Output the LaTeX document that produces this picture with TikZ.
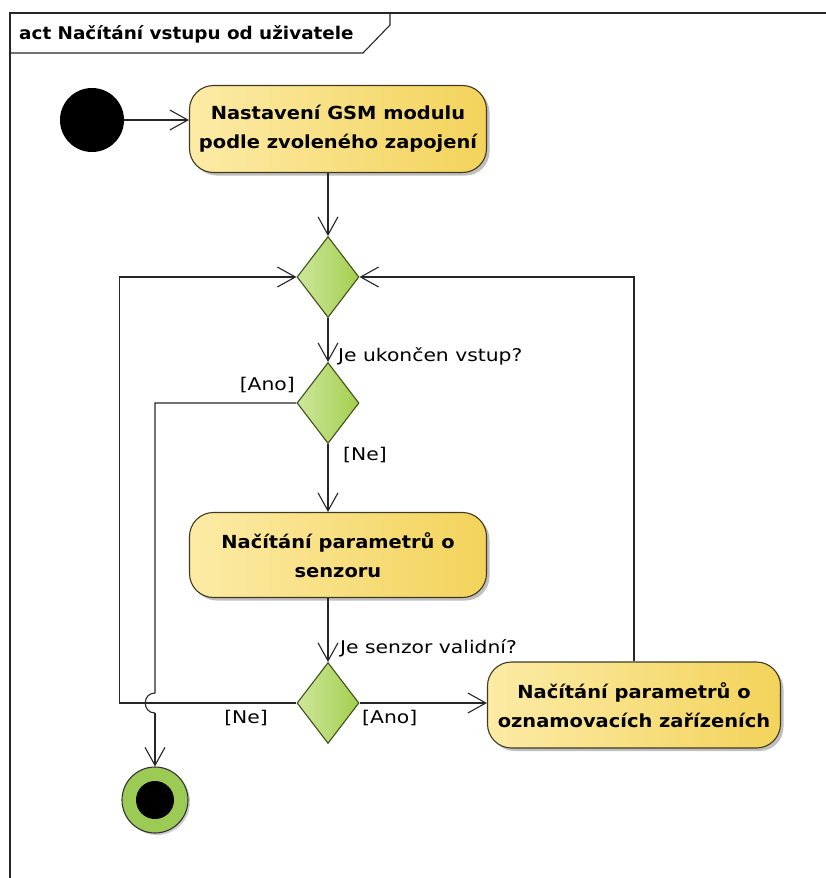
\documentclass[tikz,border=0pt]{standalone}
\usepackage{fontspec}
\setmainfont{DejaVu Sans}
\newfontfamily\boxfont[FakeStretch=1.08]{DejaVu Sans}
\newfontfamily\titlefont[FakeStretch=1.05]{DejaVu Sans}
\newfontfamily\guardfont[FakeStretch=1.16]{DejaVu Sans}
\usetikzlibrary{shapes.geometric,arrows.meta,shadows}

\definecolor{actL}{HTML}{FCEBA6}
\definecolor{actR}{HTML}{F3D35B}
\definecolor{actEdge}{HTML}{3F3A20}
\definecolor{decL}{HTML}{CDE79C}
\definecolor{decR}{HTML}{A3CE4E}
\definecolor{decEdge}{HTML}{3E5218}
\definecolor{finRing}{HTML}{9CCB55}

\tikzset{
  flow/.style={line width=1.1pt, draw=black!85, -{Straight Barb[length=18pt,width=20pt,line width=1.1pt]}},
  plain/.style={line width=1.1pt, draw=black!85},
  actbox/.style={rectangle, rounded corners=24pt, draw=actEdge, line width=1.1pt,
    left color=actL, right color=actR, align=center, font=\boxfont\fontsize{18}{29}\selectfont\bfseries,
    inner sep=0pt, drop shadow={shadow xshift=3pt, shadow yshift=-3pt, opacity=0.25, fill=black}},
  decbox/.style={diamond, draw=decEdge, line width=1.1pt, left color=decL, right color=decR,
    minimum width=62pt, minimum height=81pt, inner sep=0pt},
  guard/.style={font=\guardfont\fontsize{17.5}{20}\selectfont, inner sep=0pt},
}

\begin{document}
\begin{tikzpicture}[x=1pt, y=-1pt]
  \useasboundingbox (0,0) rectangle (826,878);
  \begin{scope}
    \clip (0,0) rectangle (826,878);
    % diagram frame and title tab
    \draw[line width=1.1pt, black!85] (10,890) -- (10,13) -- (840,13);
    \draw[line width=1.1pt, black!85] (10,53) -- (363,53) -- (390,25) -- (390,13);
  \end{scope}
  \node[anchor=west, font=\titlefont\fontsize{17.5}{20}\selectfont\bfseries, inner sep=0pt] (title) at (19,34)
    {act Načítání vstupu od uživatele};

  % nodes
  \node[circle, fill=black, minimum size=64pt, inner sep=0pt] (init) at (92,120) {};
  \node[actbox, minimum width=297pt, minimum height=87pt] (a1) at (338,129)
    {Nastavení GSM modulu\\podle zvoleného zapojení};
  \node[decbox] (m1) at (328,277) {};
  \node[decbox] (d1) at (328,403) {};
  \node[actbox, minimum width=297pt, minimum height=85pt] (a2) at (338,555)
    {Načítání parametrů o\\senzoru};
  \node[decbox] (d2) at (328,703) {};
  \node[actbox, minimum width=293pt, minimum height=86pt] (a3) at (634,705)
    {Načítání parametrů o\\oznamovacích zařízeních};
  \node[circle, draw=black!80, line width=1.1pt, fill=finRing, minimum size=66pt, inner sep=0pt,
    drop shadow={shadow xshift=2pt, shadow yshift=-2pt, opacity=0.2, fill=black}] (fin) at (155,800) {};
  \node[circle, fill=black, minimum size=38pt, inner sep=0pt] (finc) at (fin) {};

  % free corners of the return paths
  \coordinate (hopT) at (155,693);
  \coordinate (hopB) at (155,713);

  % connectors
  \draw[flow] (init.east) -- (init.east -| a1.west);
  \draw[flow] (m1 |- a1.south) -- (m1.north);
  \draw[flow] (m1.south) -- (d1.north);
  \draw[flow] (d1.south) -- (d1 |- a2.north);
  \draw[flow] (d2 |- a2.south) -- (d2.north);
  \draw[flow] (d2.east) -- (d2.east -| a3.west);
  \draw[flow] (a3.north) |- (m1.east);
  \draw[flow] (d2.west) -- ++(-177,0) |- (m1.west);
  \draw[plain] (d1.west) -| (hopT) .. controls ++(-13,0) and ++(-13,0) .. (hopB);
  \draw[flow] (hopB) -- (fin.north);

  % guards and labels
  \node[guard, anchor=south west] (q1) at (338,365) {Je ukončen vstup?};
  \node[guard, anchor=south east] (g1) at (295,393) {[Ano]};
  \node[guard, anchor=north west] (g2) at (343,447) {[Ne]};
  \node[guard, anchor=south west] (q2) at (340,657) {Je senzor validní?};
  \node[guard, anchor=north east] (g3) at (268,710) {[Ne]};
  \node[guard, anchor=north west] (g4) at (362,710) {[Ano]};
\end{tikzpicture}
\end{document}
